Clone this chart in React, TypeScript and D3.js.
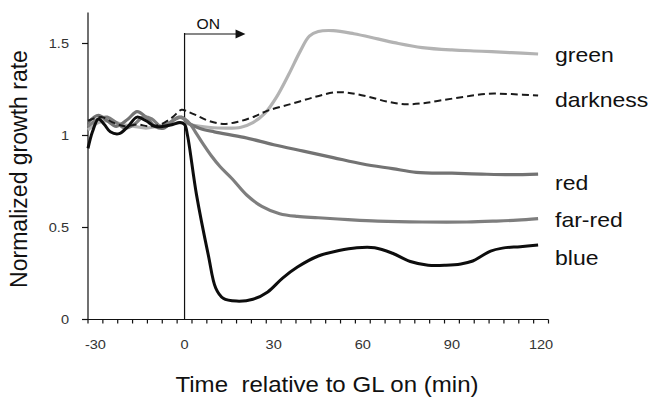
import React from 'react';
import * as d3 from 'd3';

// time axis (min relative to GL on) and tick labels
const xTickLabels = [-30, 0, 30, 60, 90, 120];
const yTickLabels = [0, 0.5, 1, 1.5];
const minorTicks = d3.range(-32.5, 123, 5);

// green light
const greenTimes = [-32.5, -29, -25, -21, -17, -13, -9, -5, -1, 3, 8, 14, 19, 23, 27, 31, 35, 39, 42, 45, 50, 57, 65, 72, 80, 90, 100, 110, 119];
const greenValues = [1.03, 1.07, 1.08, 1.06, 1.05, 1.04, 1.05, 1.06, 1.07, 1.055, 1.045, 1.04, 1.045, 1.07, 1.12, 1.21, 1.33, 1.46, 1.54, 1.565, 1.57, 1.553, 1.525, 1.5, 1.478, 1.465, 1.458, 1.45, 1.443];

// darkness (control)
const darkTimes = [-32.5, -28, -24, -20, -16, -12, -8, -4, -1, 1, 4, 8, 13, 18, 23, 28, 36, 44, 51, 56, 62, 68, 74, 80, 86, 94, 102, 110, 119];
const darkValues = [1.08, 1.1, 1.07, 1.05, 1.06, 1.05, 1.06, 1.1, 1.14, 1.13, 1.11, 1.08, 1.063, 1.075, 1.1, 1.135, 1.172, 1.21, 1.235, 1.23, 1.21, 1.185, 1.17, 1.175, 1.19, 1.21, 1.227, 1.225, 1.217];

// red light
const redTimes = [-32.5, -29, -26, -23, -19, -16, -13, -10, -7, -4, -1, 1, 5, 10, 20, 30, 40, 50, 60, 70, 78, 90, 100, 110, 119];
const redValues = [1.07, 1.11, 1.08, 1.05, 1.09, 1.13, 1.1, 1.05, 1.04, 1.08, 1.1, 1.07, 1.04, 1.02, 0.99, 0.95, 0.915, 0.88, 0.845, 0.82, 0.8, 0.795, 0.79, 0.787, 0.79];

// far-red light
const farRedTimes = [-32.5, -29, -26, -23, -20, -17, -14, -11, -8, -5, -2, 0, 2, 4, 6, 9, 12, 16, 21, 26, 32, 38, 45, 55, 65, 80, 95, 105, 112, 119];
const farRedValues = [1.05, 1.09, 1.1, 1.07, 1.04, 1.06, 1.1, 1.09, 1.05, 1.07, 1.1, 1.09, 1.06, 1.01, 0.96, 0.89, 0.83, 0.765, 0.675, 0.615, 0.575, 0.56, 0.553, 0.543, 0.535, 0.53, 0.53, 0.535, 0.54, 0.548];

// blue light
const blueTimes = [-32.5, -31, -29, -27, -25, -22, -19, -16, -13, -10, -7, -4, -1.5, 0, 1, 4, 8, 10.5, 13, 17.5, 23, 28, 33, 38, 45, 52, 58, 64, 70, 76, 82, 88, 93, 97, 100, 103, 107, 113, 119];
const blueValues = [0.93, 1.02, 1.09, 1.06, 1.02, 1.01, 1.05, 1.1, 1.08, 1.05, 1.05, 1.06, 1.07, 1.06, 1.0, 0.68, 0.35, 0.17, 0.115, 0.1, 0.11, 0.15, 0.225, 0.285, 0.345, 0.375, 0.39, 0.39, 0.36, 0.315, 0.295, 0.295, 0.302, 0.318, 0.345, 0.372, 0.388, 0.396, 0.405];

const FONT = '"Liberation Sans", Arial, Helvetica, sans-serif';

// text in the original is a bit wider than Arial, so stretch it horizontally
function T({ x, y, size, sx = 1.12, anchor = 'start', fill = '#111', rotate = false, children }) {
  return (
    <text
      transform={`translate(${x},${y}) scale(${sx},1)${rotate ? ' rotate(-90)' : ''}`}
      fontFamily={FONT}
      fontSize={size}
      textAnchor={anchor}
      fill={fill}
      style={{ whiteSpace: 'pre' }}
    >
      {children}
    </text>
  );
}

export default function App() {
  const x = d3.scaleLinear().domain([-32.5, 122.5]).range([88, 548.5]);
  const y = d3.scaleLinear().domain([0, 1.5]).range([319.5, 43.5]);
  const yTop = y(1.668);

  const line = d3.line<[number, number]>()
    .x(d => x(d[0]))
    .y(d => y(d[1]))
    .curve(d3.curveCatmullRom.alpha(0.5));

  const zip = (ts: number[], vs: number[]) => ts.map((t, i) => [t, vs[i]] as [number, number]);

  const series = [
    { name: 'green', pts: zip(greenTimes, greenValues), color: '#b3b3b3', width: 3.2, dash: null, labelY: 62 },
    { name: 'red', pts: zip(redTimes, redValues), color: '#737373', width: 3.2, dash: null, labelY: 190 },
    { name: 'far-red', pts: zip(farRedTimes, farRedValues), color: '#7e7e7e', width: 3.2, dash: null, labelY: 227 },
    { name: 'darkness', pts: zip(darkTimes, darkValues), color: '#1a1a1a', width: 2, dash: '7,4', labelY: 107 },
    { name: 'blue', pts: zip(blueTimes, blueValues), color: '#0d0d0d', width: 3, dash: null, labelY: 265 },
  ];

  const x0 = x(0);
  const arrowY = 34;

  return (
    <svg width={651} height={397} style={{ position: 'absolute', left: 0, top: 0, background: '#fff' }}>
      <rect width={651} height={397} fill="#fff" />

      {/* y axis */}
      <line x1={x(-32.5)} x2={x(-32.5)} y1={yTop} y2={y(0)} stroke="#111" strokeWidth={1.2} />
      {yTickLabels.map(v => (
        <g key={v}>
          <line x1={x(-32.5) - 6} x2={x(-32.5)} y1={y(v)} y2={y(v)} stroke="#111" strokeWidth={1.2} />
          <T x={69} y={y(v) + 4.5} size={13} anchor="end" fill="#333">{String(v)}</T>
        </g>
      ))}

      {/* x axis */}
      <line x1={x(-32.5)} x2={x(122.5)} y1={y(0)} y2={y(0)} stroke="#111" strokeWidth={1.2} />
      {minorTicks.map(t => (
        <line key={t} x1={x(t)} x2={x(t)} y1={y(0)} y2={y(0) + 4} stroke="#111" strokeWidth={1.2} />
      ))}
      {xTickLabels.map(t => (
        <T key={t} x={x(t)} y={349} size={13} anchor="middle" fill="#333">{String(t)}</T>
      ))}

      {/* light-on marker */}
      <line x1={x0} x2={x0} y1={arrowY - 1} y2={y(0)} stroke="#111" strokeWidth={1.2} />
      <line x1={x0} x2={x(17.5)} y1={arrowY} y2={arrowY} stroke="#111" strokeWidth={1.2} />
      <path d={`M${x(17.5) - 1},${arrowY - 4.5}L${x(20.5)},${arrowY}L${x(17.5) - 1},${arrowY + 4.5}Z`} fill="#111" />
      <T x={x(8)} y={29} size={14} anchor="middle">ON</T>

      {/* curves */}
      {series.map(s => (
        <path
          key={s.name}
          d={line(s.pts) || ''}
          fill="none"
          stroke={s.color}
          strokeWidth={s.width}
          strokeDasharray={s.dash || undefined}
          strokeLinejoin="round"
          strokeLinecap="butt"
        />
      ))}

      {/* series labels */}
      {series.map(s => (
        <T key={s.name} x={555} y={s.labelY} size={20} sx={1.15}>{s.name}</T>
      ))}

      {/* axis titles */}
      <T x={327} y={392} size={21.5} sx={1.12} anchor="middle">Time  relative to GL on (min)</T>
      <T x={27} y={169} size={23} sx={1.0} anchor="middle" rotate>Normalized growth rate</T>
    </svg>
  );
}
